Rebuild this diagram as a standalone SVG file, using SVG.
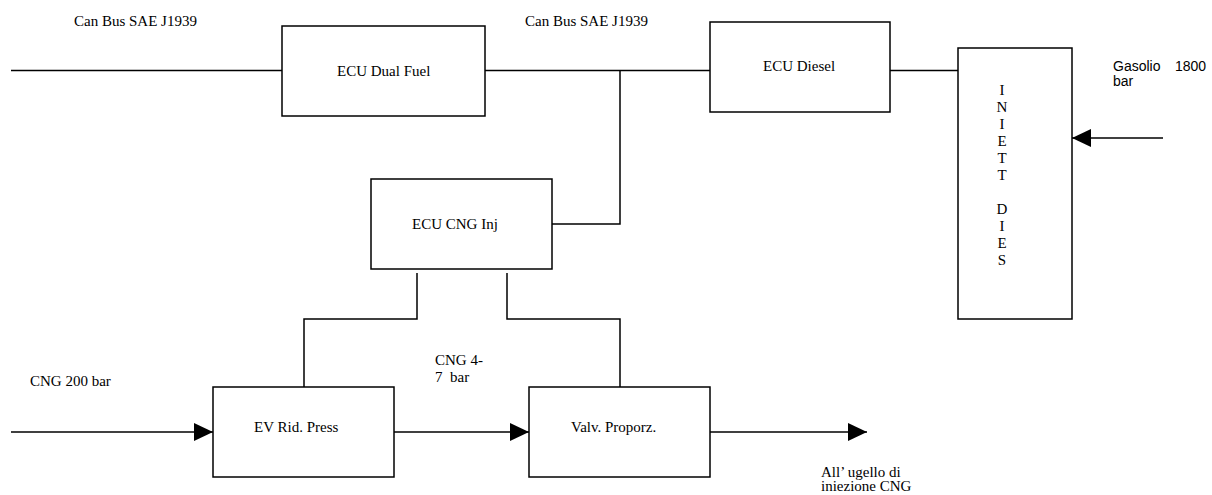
<svg xmlns="http://www.w3.org/2000/svg" width="1212" height="495" viewBox="0 0 1212 495">
<style>
.box{fill:#fff;stroke:#000;stroke-width:1.5}
.ln{fill:none;stroke:#000;stroke-width:1.5}
.t{font-family:'Liberation Serif', 'Times New Roman', Times, serif;font-size:15px;fill:#000}
.s{font-family:'Liberation Sans', Arial, sans-serif;font-size:14px;fill:#000}
.c{text-anchor:middle}
</style>
<defs>
<marker id="ah" markerUnits="userSpaceOnUse" markerWidth="20" markerHeight="20" refX="19" refY="9" orient="auto">
<path d="M0,0 L19,9 L0,18 Z" fill="#000"/>
</marker>
</defs>
<rect width="1212" height="495" fill="#fff"/>
<g id="connectors">
<line class="ln" x1="11" y1="70.5" x2="282" y2="70.5"/>
<line class="ln" x1="485" y1="70.5" x2="710" y2="70.5"/>
<line class="ln" x1="890" y1="70.5" x2="958" y2="70.5"/>
<polyline class="ln" points="552,224 620,224 620,70.5"/>
<polyline class="ln" points="417,273 417,319 304,319 304,387"/>
<polyline class="ln" points="507,273 507,319 620,319 620,387"/>
<line class="ln" x1="11" y1="432" x2="213" y2="432" marker-end="url(#ah)"/>
<line class="ln" x1="394" y1="432" x2="529" y2="432" marker-end="url(#ah)"/>
<line class="ln" x1="710" y1="432" x2="867" y2="432" marker-end="url(#ah)"/>
<line class="ln" x1="1163" y1="138" x2="1072" y2="138" marker-end="url(#ah)"/>
</g>
<g id="ecu-dual-fuel">
<rect class="box" x="282" y="26" width="203" height="90"/>
<text class="t" x="337" y="76" font-family="Liberation Serif, serif">ECU Dual Fuel</text>
</g>
<g id="ecu-diesel">
<rect class="box" x="710" y="22" width="180" height="90"/>
<text class="t" x="763" y="71">ECU Diesel</text>
</g>
<g id="iniett-dies">
<rect class="box" x="958" y="48" width="114" height="271"/>
<text class="t c" x="1002" y="95">I</text>
<text class="t c" x="1002" y="112">N</text>
<text class="t c" x="1002" y="129">I</text>
<text class="t c" x="1002" y="146">E</text>
<text class="t c" x="1002" y="163">T</text>
<text class="t c" x="1002" y="180">T</text>
<text class="t c" x="1002" y="214">D</text>
<text class="t c" x="1002" y="231">I</text>
<text class="t c" x="1002" y="248">E</text>
<text class="t c" x="1002" y="265">S</text>
</g>
<g id="ecu-cng-inj">
<rect class="box" x="371" y="179" width="181" height="90"/>
<text class="t" x="412" y="229">ECU CNG Inj</text>
</g>
<g id="ev-rid-press">
<rect class="box" x="213" y="387" width="181" height="90"/>
<text class="t" x="254" y="432">EV Rid. Press</text>
</g>
<g id="valv-proporz">
<rect class="box" x="529" y="387" width="181" height="90"/>
<text class="t" x="571" y="432">Valv. Proporz.</text>
</g>
<g id="labels">
<text class="t" x="74" y="26">Can Bus SAE J1939</text>
<text class="t" x="525" y="26">Can Bus SAE J1939</text>
<text class="s" x="1113" y="71">Gasolio</text>
<text class="s" x="1175" y="71">1800</text>
<text class="s" x="1113" y="86">bar</text>
<text class="t" x="30" y="386">CNG 200 bar</text>
<text class="t" x="435" y="365">CNG 4-</text>
<text class="t" x="435" y="382" xml:space="preserve">7  bar</text>
<text class="t" x="821" y="477">All’ ugello di</text>
<text class="t" x="821" y="491">iniezione CNG</text>
</g>
</svg>
